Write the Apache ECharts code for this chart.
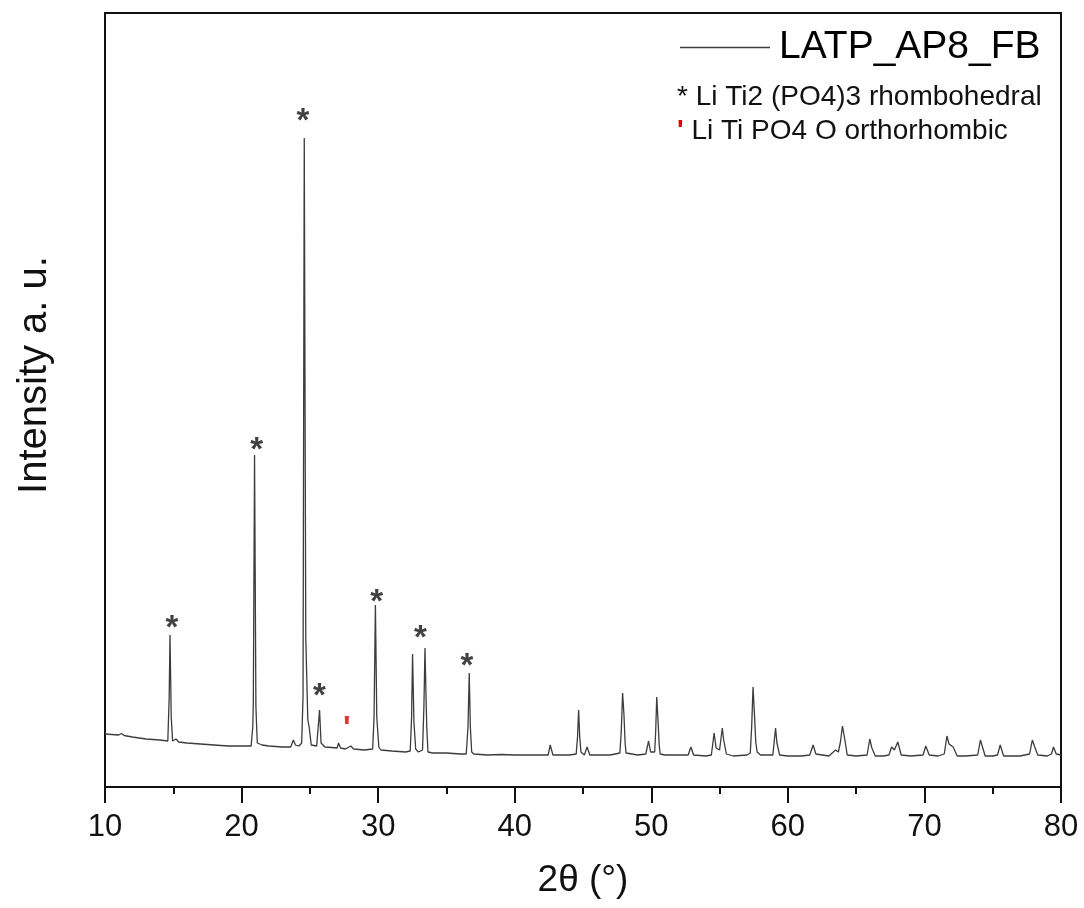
<!DOCTYPE html>
<html>
<head>
<meta charset="utf-8">
<script src="https://cdn.jsdelivr.net/npm/echarts@6/dist/echarts.min.js"></script>
<style>
  html, body { margin: 0; padding: 0; background: #fff; }
  #chart { width: 1084px; height: 908px; }
</style>
</head>
<body>
<div id="chart"></div>
<script>
// XRD pattern of LATP_AP8_FB: [2θ (°), intensity (a. u.)]
const patternLowAngle = [
  [10.0, 530], [11.0, 520], [11.2, 535], [11.4, 515], [12.0, 500], [13.0, 480], [14.0, 470], [14.6, 460],
  [14.7, 900], [14.76, 1520], [14.85, 700], [14.95, 460], [15.2, 480], [15.4, 450], [16.0, 440],
  [17.0, 430], [18.0, 420], [19.0, 410], [20.0, 410], [20.7, 410], [20.82, 600], [20.86, 850],
  [20.95, 3320], [21.05, 800], [21.15, 440], [21.5, 420], [22.0, 410], [23.0, 400], [23.6, 400],
  [23.79, 470], [23.95, 420], [24.2, 410], [24.4, 440], [24.5, 900], [24.59, 6490], [24.7, 1500],
  [24.85, 670], [24.95, 600], [25.1, 420], [25.5, 410], [25.6, 430], [25.71, 770], [25.82, 440],
  [25.95, 430], [26.1, 400], [26.6, 395], [27.0, 390], [27.1, 440], [27.25, 390], [27.6, 380],
  [28.0, 410], [28.2, 380], [29.0, 370], [29.6, 380], [29.7, 700], [29.8, 1820], [29.9, 700],
  [30.05, 400], [30.2, 370], [31.0, 360], [32.0, 350], [32.35, 360], [32.45, 700], [32.52, 1330],
  [32.62, 650], [32.75, 380], [32.95, 350], [33.25, 370], [33.35, 800], [33.43, 1390], [33.5, 940],
  [33.56, 600], [33.65, 350], [34.0, 340], [35.0, 340], [36.0, 330], [36.45, 330], [36.58, 600],
  [36.67, 1140], [36.75, 600], [36.85, 350], [37.0, 330], [38.0, 320], [39.0, 325], [40.0, 320]
];
const patternHighAngle = [
  [41.0, 320], [42.0, 320], [42.45, 320], [42.6, 420], [42.8, 320], [44.0, 320], [44.5, 330],
  [44.6, 500], [44.68, 770], [44.76, 500], [44.85, 350], [45.1, 320], [45.3, 400], [45.5, 320],
  [46.0, 320], [47.0, 320], [47.7, 340], [47.8, 550], [47.9, 940], [48.0, 720], [48.08, 450],
  [48.15, 340], [49.0, 320], [49.6, 330], [49.8, 460], [49.95, 350], [50.25, 350], [50.32, 550],
  [50.4, 900], [50.5, 650], [50.58, 420], [50.65, 330], [51.0, 320], [52.0, 320], [52.7, 320],
  [52.9, 400], [53.1, 320], [54.0, 310], [54.4, 320], [54.6, 540], [54.75, 390], [55.0, 370],
  [55.2, 590], [55.3, 470], [55.5, 330], [56.0, 310], [57.0, 320], [57.25, 340], [57.35, 600],
  [57.45, 1000], [57.55, 740], [57.65, 450], [57.75, 350], [58.0, 320], [58.9, 320], [59.1, 590],
  [59.2, 440], [59.4, 320], [60.0, 310], [61.0, 310], [61.6, 320], [61.85, 420], [62.05, 330],
  [63.0, 310], [63.5, 370], [63.7, 350], [63.85, 450], [64.0, 610], [64.15, 490], [64.35, 320],
  [65.0, 310], [65.8, 320], [66.0, 480], [66.15, 390], [66.4, 310], [67.0, 310], [67.4, 320],
  [67.6, 400], [67.8, 370], [68.05, 450], [68.3, 320], [69.0, 310], [69.9, 320], [70.1, 410],
  [70.35, 320], [71.0, 310], [71.45, 330], [71.65, 510], [71.8, 430], [72.1, 400], [72.4, 310],
  [73.0, 310], [73.9, 320], [74.1, 470], [74.25, 400], [74.45, 310], [75.0, 310], [75.35, 320],
  [75.55, 420], [75.8, 310], [76.0, 310], [77.0, 310], [77.7, 330], [77.9, 470], [78.05, 410],
  [78.3, 320], [79.0, 310], [79.3, 330], [79.45, 400], [79.65, 330], [80.0, 320]
];

// Reflection markers: [2θ, intensity level of the marker]
const rhombohedralMarks = [[14.9, 1670], [21.1, 3450], [24.5, 6740], [25.7, 990], [29.9, 1930], [33.1, 1570], [36.5, 1290]];
const orthorhombicMarks = [[27.7, 670]];

const sampleName = 'LATP_AP8_FB';
const phaseNames = ['Li Ti2 (PO4)3 rhombohedral', 'Li Ti PO4 O orthorhombic'];
const xTicks = { min: 10, max: 80, step: 10 };
const yRange = { min: 0, max: 7740 };

const FONT = '"Liberation Sans", Arial, Helvetica, sans-serif';

const chart = echarts.init(document.getElementById('chart'), null, { renderer: 'canvas' });

chart.setOption({
  animation: false,
  backgroundColor: '#fff',
  textStyle: { fontFamily: FONT },
  grid: {
    left: 105, right: 23, top: 13, bottom: 121,
    show: true, borderColor: '#111', borderWidth: 2, backgroundColor: 'transparent'
  },
  legend: {
    data: [sampleName],
    left: 675, top: 23,
    itemWidth: 90, itemHeight: 1.5, itemGap: 0,
    icon: 'rect',
    textStyle: { fontSize: 39, color: '#000', fontFamily: FONT, padding: [0, 0, 0, 4] }
  },
  xAxis: {
    type: 'value',
    min: xTicks.min, max: xTicks.max, interval: xTicks.step,
    name: '2θ (°)', nameLocation: 'middle', nameGap: 75,
    nameTextStyle: { fontSize: 37, color: '#111', fontFamily: FONT },
    axisLine: { show: true, onZero: false, lineStyle: { color: '#111', width: 2 } },
    axisTick: { show: true, inside: false, length: 16, lineStyle: { color: '#111', width: 2 } },
    minorTick: { show: true, splitNumber: 2, length: 7, lineStyle: { color: '#111', width: 2 } },
    axisLabel: { fontSize: 31, color: '#111', margin: 25, fontFamily: FONT },
    splitLine: { show: false }
  },
  yAxis: {
    type: 'value',
    min: yRange.min, max: yRange.max,
    name: 'Intensity a. u.', nameLocation: 'middle', nameGap: 50,
    nameTextStyle: { fontSize: 40, color: '#111', fontFamily: FONT, padding: [0, 0, 0, 50] },
    axisLine: { show: false },
    axisTick: { show: false },
    axisLabel: { show: false },
    splitLine: { show: false }
  },
  series: [
    {
      name: sampleName,
      type: 'line',
      data: patternLowAngle.concat(patternHighAngle),
      showSymbol: false,
      symbol: 'none',
      lineStyle: { color: '#3c3c3c', width: 1.3 },
      itemStyle: { color: '#3c3c3c' },
      z: 3
    },
    {
      name: phaseNames[0],
      type: 'scatter',
      data: rhombohedralMarks,
      symbolSize: 0,
      silent: true,
      label: {
        show: true, position: 'inside', formatter: '*', offset: [0, 9],
        fontSize: 33, fontWeight: 'bold', color: '#111', fontFamily: FONT
      }
    },
    {
      name: phaseNames[1],
      type: 'scatter',
      data: orthorhombicMarks,
      symbolSize: 0,
      silent: true,
      label: {
        show: true, position: 'inside', formatter: "'", offset: [0, 9],
        fontSize: 32, fontWeight: 'bold', color: '#e00000', fontFamily: FONT
      }
    }
  ],
  graphic: [
    {
      type: 'text', left: 677, top: 83,
      style: {
        text: '{m|*} ' + phaseNames[0],
        font: '28px ' + FONT, fill: '#111',
        rich: { m: { fontSize: 28, fill: '#111', fontFamily: FONT } }
      }
    },
    {
      type: 'text', left: 677, top: 117,
      style: {
        text: "{m|'} " + phaseNames[1],
        font: '28px ' + FONT, fill: '#111',
        rich: { m: { fontSize: 28, fontWeight: 'bold', fill: '#e00000', fontFamily: FONT } }
      }
    }
  ]
});
</script>
</body>
</html>
